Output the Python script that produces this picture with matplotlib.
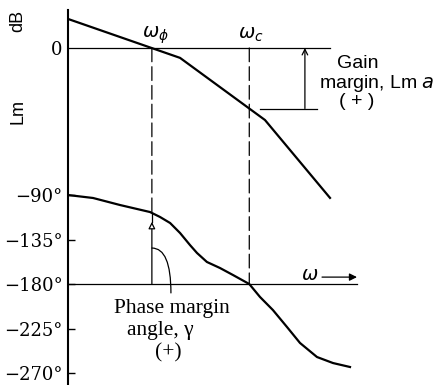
import numpy as np
import matplotlib.pyplot as plt
from matplotlib.patches import ConnectionPatch

plt.rcParams['font.family'] = ['Liberation Sans', 'DejaVu Sans']
plt.rcParams['mathtext.fontset'] = 'dejavusans'

# log-magnitude asymptotes (dB) vs frequency
mag_w = [0.1, 1.32, 9.33, 41.7]
mag_db = [16.4, -5.6, -40.7, -84.7]

# phase angle (deg) vs frequency
phase_w = [0.1, 0.178, 0.331, 0.661, 0.832, 1.05, 1.32, 1.66, 1.95, 2.45, 3.31, 4.47, 6.5,
           8.32, 11.2, 15.5, 20.9, 30.9, 44.7, 66.1]
phase_deg = [-90, -93, -100.1, -107.2, -112.2, -118.3, -128.4, -140.6, -148.6, -157.7, -163.8,
             -170.9, -180, -193.1, -206.3, -223.5, -239.6, -253.8, -259.9, -263.9]

phase_ticks = [-90, -135, -180, -225, -270]
phase_labels = ['\u221290\u00b0', '\u2212135\u00b0', '\u2212180\u00b0', '\u2212225\u00b0', '\u2212270\u00b0']

w_phi = 0.69   # gain crossover
w_c = 6.5      # phase crossover

W, H = 437, 385


def px(x, y):
    return x / W, 1 - y / H


fig = plt.figure(figsize=(W / 100, H / 100), dpi=100)
ax = fig.add_axes([68 / W, 0, 1 - 68 / W, 1])
ax.set_xscale('log')
ax.set_xlim(0.1, 490)
ax.set_ylim(-282.1, 107.2)
ax.patch.set_alpha(0)

ax_m = ax.twinx()
ax_m.set_ylim(-190.4, 27.1)
ax_m.patch.set_alpha(0)

for s in ['top', 'right', 'bottom']:
    ax.spines[s].set_visible(False)
for s in ax_m.spines.values():
    s.set_visible(False)
ax.spines['left'].set_bounds(-285, 97)
ax.spines['left'].set_linewidth(1.5)

tick_font = ['DejaVu Serif']
ax.tick_params(axis='x', which='both', bottom=False, labelbottom=False)
ax.set_yticks(phase_ticks)
ax.set_yticklabels(phase_labels, fontfamily=tick_font)
ax.tick_params(axis='y', direction='in', length=5, width=1, labelsize=13, pad=4)

ax_m.yaxis.set_ticks_position('left')
ax_m.set_yticks([0])
ax_m.set_yticklabels(['0'], fontfamily=tick_font)
ax_m.tick_params(axis='y', length=0, labelsize=13, pad=4)

# curves
ax_m.plot(mag_w, mag_db, color='k', lw=1.6)
ax.plot(phase_w, phase_deg, color='k', lw=1.6)

# reference lines
ax_m.plot([0.1, 41.7], [0, 0], color='k', lw=0.9)
ax.plot([0.1, 77.6], [-180, -180], color='k', lw=0.9)

ph_phi = np.interp(np.log10(w_phi), np.log10(phase_w), phase_deg)
gm_db = np.interp(np.log10(w_c), np.log10(mag_w), mag_db)

# dashed crossover verticals
for w, y2 in [(w_phi, ph_phi), (w_c, -180)]:
    con = ConnectionPatch((w, 0), (w, y2), coordsA=ax_m.transData, coordsB=ax.transData,
                          color='k', lw=0.9, linestyle=(0, (11, 4)))
    fig.add_artist(con)

# gain margin
ax_m.plot([8.3, 30.9], [gm_db, gm_db], color='k', lw=0.9)
ax_m.annotate('', xy=(23.4, 0), xytext=(23.4, gm_db),
              arrowprops=dict(arrowstyle='->', lw=0.9, color='k', shrinkA=0, shrinkB=0))

# phase margin
ax.plot([w_phi, w_phi], [ph_phi - 9, ph_phi], color='k', lw=0.9)
ax.annotate('', xy=(w_phi, ph_phi - 9), xytext=(w_phi, -180),
            arrowprops=dict(arrowstyle='-|>', lw=0.9, color='k', fc='white',
                            mutation_scale=10, shrinkA=0, shrinkB=0))
ax.annotate('', xy=(w_phi, -143.6), xytext=(1.07, -189),
            arrowprops=dict(arrowstyle='-', lw=0.9, color='k', shrinkA=0, shrinkB=0,
                            connectionstyle='angle3,angleA=90,angleB=0'))

# omega arrow
ax.annotate('', xy=(77.6, -173), xytext=(34.7, -173),
            arrowprops=dict(arrowstyle='-|>', lw=0.9, color='k', mutation_scale=11,
                            shrinkA=0, shrinkB=0))
fig.text(*px(310, 276), r'$\omega$', fontsize=14, ha='center', va='center')

# labels
fig.text(*px(18, 21), 'dB', rotation=90, fontsize=13, ha='center', va='center')
fig.text(*px(18, 112), 'Lm', rotation=90, fontsize=13, ha='center', va='center')
fig.text(*px(155, 35), r'$\omega_\phi$', fontsize=14, ha='center', va='center')
fig.text(*px(251, 35), r'$\omega_c$', fontsize=14, ha='center', va='center')

fig.text(*px(358, 64), 'Gain', fontsize=14, ha='center', va='center')
fig.text(*px(377, 83), 'margin, Lm $a$', fontsize=14, ha='center', va='center')
fig.text(*px(357, 102), '( + )', fontsize=14, ha='center', va='center')

serif = ['Liberation Serif', 'DejaVu Serif']
fig.text(*px(172, 308), 'Phase margin', fontsize=15.5, family=serif, ha='center', va='center')
fig.text(*px(160, 331), 'angle, \u03b3', fontsize=15.5, family=serif, ha='center', va='center')
fig.text(*px(168, 353), '(+)', fontsize=15.5, family=serif, ha='center', va='center')

fig.savefig('out.png', dpi=100)
